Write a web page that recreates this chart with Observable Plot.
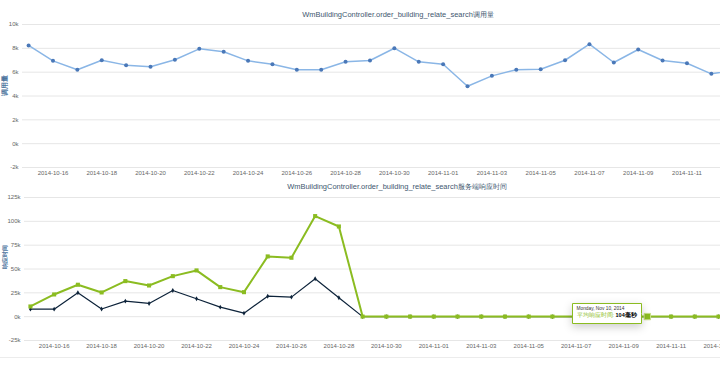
<!DOCTYPE html>
<html><head><meta charset="utf-8">
<script src="https://cdn.jsdelivr.net/npm/d3@7"></script>
<script src="https://cdn.jsdelivr.net/npm/@observablehq/plot@0.6"></script>
<style>
body{margin:0;background:#fff;}
#wrap{position:relative;width:720px;height:369px;overflow:hidden;font-family:"Liberation Sans",Arial,sans-serif;}
.title{position:absolute;white-space:nowrap;color:#3E576F;transform:translate(-50%,-50%);line-height:1;}
.chart{position:absolute;left:0;}
.rule{position:absolute;left:0;width:720px;height:0;border-top:1px solid #ececec;}
</style></head><body><div id="wrap"></div>
<script>
const dates = ["2014-10-15","2014-10-16","2014-10-17","2014-10-18","2014-10-19","2014-10-20","2014-10-21","2014-10-22","2014-10-23","2014-10-24","2014-10-25","2014-10-26","2014-10-27","2014-10-28","2014-10-29","2014-10-30","2014-10-31","2014-11-01","2014-11-02","2014-11-03","2014-11-04","2014-11-05","2014-11-06","2014-11-07","2014-11-08","2014-11-09","2014-11-10","2014-11-11","2014-11-12","2014-11-13"];
const callCounts = [8240,6950,6200,7000,6590,6450,7040,7960,7710,6950,6670,6200,6200,6870,6980,8010,6870,6670,4820,5690,6200,6250,7000,8350,6810,7900,6980,6750,5860,6200];
const avgResponse = [10700,23300,33500,25400,37300,32700,42500,48500,31000,25700,63200,61800,105500,94600,112,98,105,101,96,110,103,99,107,95,102,100,104,97,106,101];
const minResponse = [7900,7900,25000,8000,16300,13900,27500,18800,10000,3700,21500,20500,39800,19800,45,40,42,38,36,44,41,39,43,37,40,39,41,38,42,40];
const topTicks = ["2014-10-16","2014-10-18","2014-10-20","2014-10-22","2014-10-24","2014-10-26","2014-10-28","2014-10-30","2014-11-01","2014-11-03","2014-11-05","2014-11-07","2014-11-09","2014-11-11"];
const bottomTicks = ["2014-10-16","2014-10-18","2014-10-20","2014-10-22","2014-10-24","2014-10-26","2014-10-28","2014-10-30","2014-11-01","2014-11-03","2014-11-05","2014-11-07","2014-11-09","2014-11-11","2014-11-13"];
const topYTicks = [-2000,0,2000,4000,6000,8000,10000];
const bottomYTicks = [-25000,0,25000,50000,75000,100000,125000];
const topTitle = "WmBuildingController.order_building_relate_search调用量";
const bottomTitle = "WmBuildingController.order_building_relate_search服务端响应时间";
const topYLabel = "调用量";
const bottomYLabel = "响应时间";
const tipDate = "2014-11-10";
const tipHeader = "Monday, Nov 10, 2014";
const tipLabel = "平均响应时间: ";
const tipValue = "104毫秒";

const parse = d3.utcParse("%Y-%m-%d");
const fmt = d3.utcFormat("%Y-%m-%d");
const FONT = '"Liberation Sans", Arial, sans-serif';
const wrap = document.getElementById("wrap");

function addTitle(text, cx, cy, targetW) {
  const c = document.createElement("canvas").getContext("2d");
  c.font = "10px " + FONT;
  const w = c.measureText(text).width;
  const div = document.createElement("div");
  div.className = "title";
  div.textContent = text;
  div.style.fontSize = (10 * targetW / w).toFixed(2) + "px";
  div.style.left = cx + "px";
  div.style.top = cy + "px";
  wrap.appendChild(div);
}

// Top chart
const topData = dates.map((d, i) => ({date: parse(d), v: callCounts[i]}));
const topPlot = Plot.plot({
  width: 720, height: 180,
  marginLeft: 22, marginRight: 0, marginTop: 24, marginBottom: 13,
  style: {fontFamily: FONT, fontSize: "6px", color: "#666", background: "transparent"},
  x: {type: "utc", domain: [new Date(Date.UTC(2014, 9, 14, 18)), new Date(Date.UTC(2014, 10, 12, 9))]},
  y: {domain: [-2000, 10000]},
  marks: [
    Plot.gridY(topYTicks, {stroke: "#e6e6e6", strokeOpacity: 1}),
    Plot.axisY(topYTicks, {tickSize: 0, tickPadding: 4, tickFormat: d => d / 1000 + "k", label: null, fill: "#666"}),
    Plot.axisX(topTicks.map(parse), {tickSize: 0, tickPadding: 3, tickFormat: fmt, label: null, fill: "#666"}),
    Plot.text([topYLabel], {frameAnchor: "left", text: d => d, rotate: -90, dx: -18, dy: 0, fill: "#4d759e", fontWeight: "bold", fontSize: 7}),
    Plot.line(topData, {x: "date", y: "v", stroke: "#8ab6e6", strokeWidth: 1.5, clip: true}),
    Plot.dot(topData, {x: "date", y: "v", r: 2, fill: "#4a78b8", clip: true})
  ]
});
const topBox = document.createElement("div");
topBox.className = "chart"; topBox.style.top = "0px";
topBox.appendChild(topPlot);
wrap.appendChild(topBox);

// Bottom chart
const avgData = dates.map((d, i) => ({date: parse(d), v: avgResponse[i]}));
const minData = dates.map((d, i) => ({date: parse(d), v: minResponse[i]}));
const tipData = avgData.filter(d => fmt(d.date) === tipDate);
const bottomPlot = Plot.plot({
  width: 720, height: 189,
  marginLeft: 24, marginRight: 0, marginTop: 17, marginBottom: 29,
  style: {fontFamily: FONT, fontSize: "6px", color: "#666", background: "transparent"},
  x: {type: "utc", domain: [new Date(Date.UTC(2014, 9, 14, 18)), new Date(Date.UTC(2014, 10, 13, 2))]},
  y: {domain: [-25000, 125000]},
  marks: [
    Plot.gridY(bottomYTicks, {stroke: "#e6e6e6", strokeOpacity: 1}),
    Plot.axisY(bottomYTicks, {tickSize: 0, tickPadding: 4, tickFormat: d => d / 1000 + "k", label: null, fill: "#666"}),
    Plot.axisX(bottomTicks.map(parse), {tickSize: 0, tickPadding: 3, tickFormat: fmt, label: null, fill: "#666"}),
    Plot.text([bottomYLabel], {frameAnchor: "left", text: d => d, rotate: -90, dx: -19, fill: "#4d759e", fontWeight: "bold", fontSize: 6}),
    Plot.line(minData, {x: "date", y: "v", stroke: "#0d233a", strokeWidth: 1.2, clip: true}),
    Plot.dot(minData, {x: "date", y: "v", r: 1.5, symbol: "diamond", fill: "#0d233a", clip: true}),
    Plot.line(avgData, {x: "date", y: "v", stroke: "#8bbc21", strokeWidth: 2, clip: true}),
    Plot.dot(avgData, {x: "date", y: "v", r: 2.3, symbol: "square", fill: "#8bbc21", clip: true}),
    Plot.dot(tipData, {x: "date", y: "v", r: 3.6, symbol: "square", fill: "#8bbc21", stroke: "#c8e08a", strokeWidth: 1}),
    Plot.tip(tipData, {x: "date", y: "v", title: () => tipHeader + "\n" + tipLabel + tipValue,
      anchor: "right", pointerSize: 0, dx: -6, dy: -3, fill: "white", stroke: "#8bbc21",
      fontSize: 5.5, textPadding: 4, lineHeight: 1.25})
  ]
});
const tipText = bottomPlot.querySelector('g[aria-label="tip"] text');
if (tipText) {
  const spans = tipText.querySelectorAll("tspan");
  if (spans.length >= 2) {
    spans[0].setAttribute("font-size", "4.8");
    spans[0].setAttribute("fill", "#333");
    const s2 = spans[1];
    s2.textContent = "";
    const ns = "http://www.w3.org/2000/svg";
    const a = document.createElementNS(ns, "tspan");
    a.setAttribute("fill", "#8bbc21"); a.textContent = tipLabel;
    const b = document.createElementNS(ns, "tspan");
    b.setAttribute("fill", "#000"); b.setAttribute("font-weight", "bold"); b.textContent = tipValue;
    s2.appendChild(a); s2.appendChild(b);
  }
}
const botBox = document.createElement("div");
botBox.className = "chart"; botBox.style.top = "180px";
botBox.appendChild(bottomPlot);
wrap.appendChild(botBox);

const rule = document.createElement("div");
rule.className = "rule"; rule.style.top = "357px";
wrap.appendChild(rule);

addTitle(topTitle, 398, 15, 193);
addTitle(bottomTitle, 397, 187, 223);
</script></body></html>
